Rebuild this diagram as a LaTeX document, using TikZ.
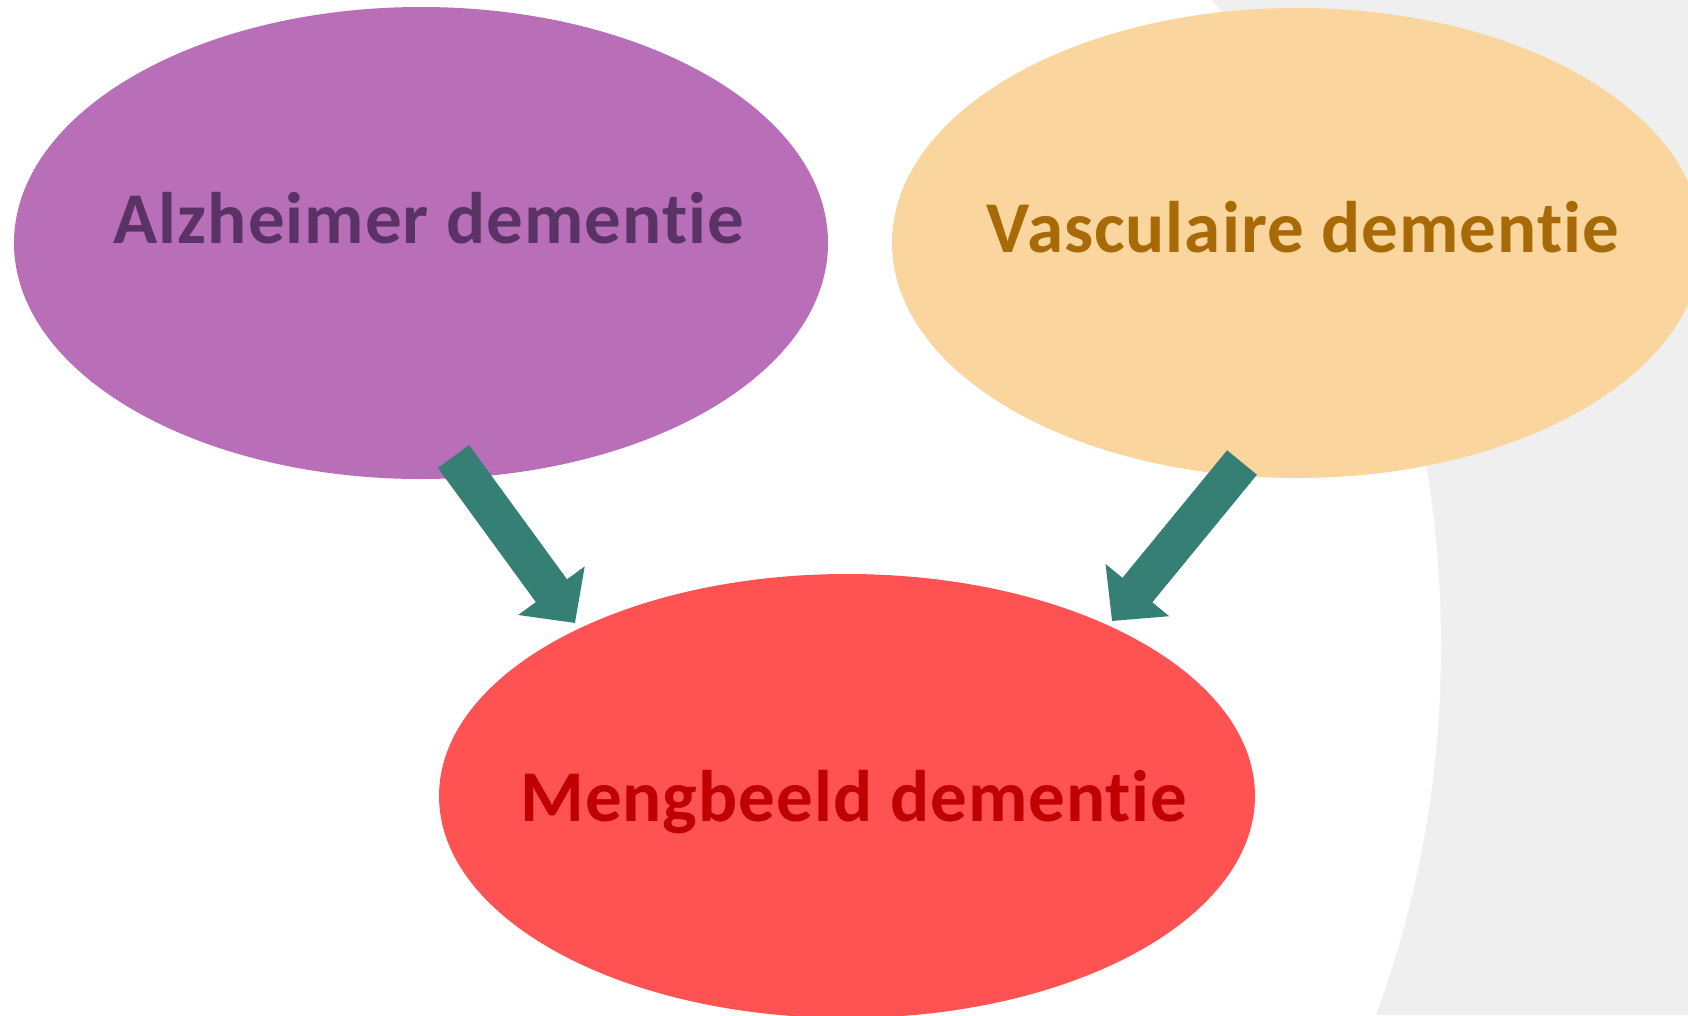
\documentclass[tikz,border=0pt]{standalone}
\usepackage{fontspec}
\setmainfont{Carlito}[LetterSpace=1.4, Ligatures={NoCommon,NoRare}]
\usetikzlibrary{shapes.geometric,arrows.meta}
\definecolor{bggrey}{HTML}{EFEFEF}
\definecolor{alzfill}{HTML}{B86FB7}
\definecolor{alztext}{HTML}{5A3265}
\definecolor{vasfill}{HTML}{FAD69E}
\definecolor{vastext}{HTML}{A86A06}
\definecolor{menfill}{HTML}{FF5252}
\definecolor{mentext}{HTML}{C00000}
\definecolor{teal}{HTML}{367F74}
\tikzset{
  blob/.style={ellipse, inner sep=0pt, draw=none},
  lbl/.style={anchor=base, inner sep=0pt, font=\fontsize{73}{80}\selectfont\bfseries},
  bigarrow/.style={draw=teal, line width=38.6pt, line cap=butt,
    -{Triangle[width=80pt,length=40pt]}}
}
\begin{document}
\begin{tikzpicture}[x=1pt,y=-1pt]
\useasboundingbox (0,0) rectangle (1688,1015);
\begin{scope}
\clip (0,0) rectangle (1688,1015);
\fill[bggrey] (1000,0) rectangle (1688,1015);
\fill[white] (754,646) ellipse [x radius=687, y radius=866];
\node[blob, fill=alzfill, minimum width=814pt, minimum height=472pt] (alz) at (421,243) {};
\node[blob, fill=vasfill, minimum width=810pt, minimum height=470pt] (vas) at (1297,243) {};
\node[blob, fill=menfill, minimum width=816pt, minimum height=444pt] (men) at (847,796) {};
\end{scope}
\node[lbl, text=alztext] (alzt) at (429,243) {Alzheimer dementie};
\node[lbl, text=vastext] (vast) at (1303,252) {Vasculaire dementie};
\node[lbl, text=mentext] (ment) at (854,821) {Mengbeeld dementie};
\coordinate (a1s) at (453.5,456.5);
\coordinate (a1e) at (575,623);
\coordinate (a2s) at (1242,462.5);
\coordinate (a2e) at (1112,621);
\draw[bigarrow] (a1s) -- (a1e);
\draw[bigarrow] (a2s) -- (a2e);
\end{tikzpicture}
\end{document}
